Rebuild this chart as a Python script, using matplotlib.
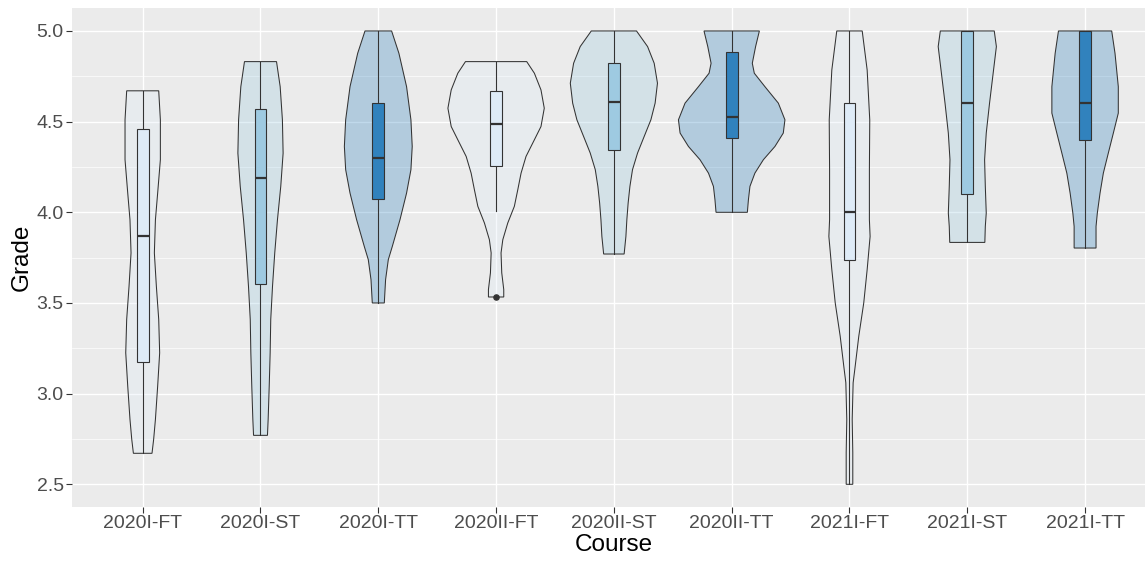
import numpy as np
import matplotlib
matplotlib.use("Agg")
from matplotlib import pyplot as plt
from matplotlib.patches import Rectangle

plt.rcParams['font.family'] = ['Liberation Sans', 'DejaVu Sans']

courses = ["2020I-FT", "2020I-ST", "2020I-TT", "2020II-FT", "2020II-ST",
           "2020II-TT", "2021I-FT", "2021I-ST", "2021I-TT"]
test_type = ["FT", "ST", "TT", "FT", "ST", "TT", "FT", "ST", "TT"]

# violin outlines: grade levels (top to bottom) and half widths
v_grade = [
    [4.67, 4.51, 4.29, 4.106, 3.959, 3.776, 3.592, 3.409, 3.225, 3.041, 2.858, 2.748, 2.671],
    [4.831, 4.693, 4.51, 4.326, 4.143, 3.959, 3.776, 3.592, 3.409, 3.225, 3.041, 2.858, 2.77],
    [5.0, 4.877, 4.693, 4.51, 4.363, 4.235, 4.106, 3.959, 3.812, 3.739, 3.629, 3.5],
    [4.831, 4.767, 4.675, 4.574, 4.473, 4.4, 4.308, 4.216, 4.124, 4.033, 3.941, 3.849,
     3.776, 3.666, 3.574, 3.533],
    [5.0, 4.914, 4.822, 4.712, 4.602, 4.51, 4.418, 4.327, 4.235, 4.143, 4.051, 3.959,
     3.867, 3.77],
    [5.0, 4.914, 4.822, 4.767, 4.693, 4.602, 4.51, 4.437, 4.363, 4.29, 4.216, 4.143,
     4.069, 4.0],
    [5.0, 4.785, 4.51, 4.235, 3.959, 3.867, 3.684, 3.5, 3.317, 3.133, 3.06, 2.858,
     2.675, 2.5],
    [5.0, 4.914, 4.785, 4.602, 4.437, 4.29, 4.143, 3.996, 3.922, 3.834],
    [5.0, 4.877, 4.693, 4.547, 4.437, 4.326, 4.216, 4.106, 3.996, 3.922, 3.803],
]
v_width = [
    [0.136, 0.150, 0.150, 0.127, 0.108, 0.099, 0.116, 0.136, 0.144, 0.127, 0.108, 0.093, 0.079],
    [0.136, 0.167, 0.186, 0.192, 0.172, 0.144, 0.121, 0.102, 0.087, 0.082, 0.074, 0.065, 0.059],
    [0.113, 0.175, 0.240, 0.277, 0.288, 0.277, 0.240, 0.184, 0.119, 0.085, 0.062, 0.051],
    [0.260, 0.325, 0.381, 0.409, 0.381, 0.325, 0.254, 0.212, 0.184, 0.155, 0.099, 0.057,
     0.042, 0.048, 0.065, 0.065],
    [0.192, 0.286, 0.342, 0.370, 0.350, 0.314, 0.257, 0.201, 0.158, 0.136, 0.121, 0.110,
     0.102, 0.087],
    [0.235, 0.203, 0.175, 0.192, 0.282, 0.396, 0.452, 0.438, 0.367, 0.269, 0.197, 0.155,
     0.142, 0.133],
    [0.108, 0.150, 0.172, 0.169, 0.169, 0.175, 0.150, 0.121, 0.079, 0.045, 0.031, 0.023,
     0.028, 0.028],
    [0.229, 0.247, 0.223, 0.189, 0.161, 0.147, 0.153, 0.161, 0.153, 0.149],
    [0.226, 0.254, 0.282, 0.282, 0.240, 0.197, 0.155, 0.127, 0.104, 0.093, 0.093],
]

# boxplot stats
whisk_lo = [2.67, 2.77, 3.50, 4.005, 3.77, 4.00, 2.50, 3.834, 3.803]
q1 = [3.176, 3.607, 4.075, 4.258, 4.345, 4.411, 3.739, 4.102, 4.400]
med = [3.867, 4.189, 4.302, 4.486, 4.607, 4.526, 4.003, 4.605, 4.605]
q3 = [4.462, 4.569, 4.602, 4.670, 4.826, 4.886, 4.602, 5.0, 5.0]
whisk_hi = [4.67, 4.831, 5.0, 4.831, 5.0, 5.0, 5.0, 5.0, 5.0]
outlier_x = ["2020II-FT"]
outlier_y = [3.533]

colors = {"FT": "#DEEBF7", "ST": "#9ECAE1", "TT": "#3182BD"}
line_col = "#333333"

fig = plt.figure(figsize=(11.45, 5.61), dpi=100)
ax = fig.add_axes([0.0629, 0.0963, 0.9465, 0.8889])
ax.set_facecolor("#EBEBEB")

for i, c in enumerate(courses):
    xc = i + 1
    g = np.array(v_grade[i])
    w = np.array(v_width[i])
    xs = np.concatenate([xc - w, (xc + w)[::-1]])
    ys = np.concatenate([g, g[::-1]])
    ax.fill(xs, ys, facecolor=colors[test_type[i]], alpha=0.3, edgecolor="none", zorder=2)
    ax.fill(xs, ys, facecolor="none", edgecolor=line_col, lw=0.75, zorder=3)

    # whiskers
    ax.plot([xc, xc], [whisk_lo[i], q1[i]], color=line_col, lw=0.8, zorder=4)
    ax.plot([xc, xc], [q3[i], whisk_hi[i]], color=line_col, lw=0.8, zorder=4)
    # box
    ax.add_patch(Rectangle((xc - 0.05, q1[i]), 0.1, q3[i] - q1[i],
                           facecolor=colors[test_type[i]], edgecolor=line_col,
                           lw=0.8, zorder=5))
    ax.plot([xc - 0.05, xc + 0.05], [med[i], med[i]], color=line_col, lw=1.6,
            zorder=6, solid_capstyle="butt")

ax.scatter([courses.index(c) + 1 for c in outlier_x], outlier_y, s=14,
           color=line_col, zorder=7)

ax.set_xlim(0.4, 9.6)
ax.set_ylim(2.375, 5.125)
ax.set_xticks(range(1, len(courses) + 1))
ax.set_xticklabels(courses)
ax.set_yticks([2.5, 3.0, 3.5, 4.0, 4.5, 5.0])
ax.set_yticklabels(["2.5", "3.0", "3.5", "4.0", "4.5", "5.0"])
ax.set_yticks([2.75, 3.25, 3.75, 4.25, 4.75], minor=True)
ax.grid(which="major", color="white", lw=1.0, zorder=0)
ax.grid(which="minor", axis="y", color="white", lw=0.5, zorder=0)
ax.set_axisbelow(True)
for s in ax.spines.values():
    s.set_visible(False)
ax.tick_params(which="major", length=4, width=0.8, color=line_col,
               labelsize=14, labelcolor="#4D4D4D", pad=2)
ax.tick_params(which="minor", length=0)

ax.set_xlabel("Course", fontsize=17.5, labelpad=1)
ax.set_ylabel("Grade", fontsize=17.5, labelpad=3)

fig.savefig("out.png", dpi=100)
